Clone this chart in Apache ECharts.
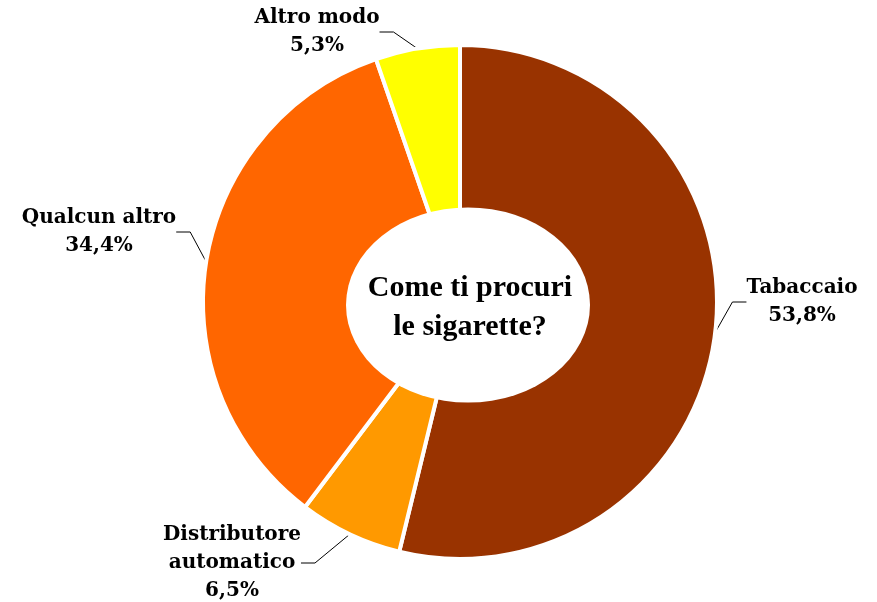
<!DOCTYPE html>
<html>
<head>
<meta charset="utf-8">
<script src="https://cdn.jsdelivr.net/npm/echarts@6/dist/echarts.min.js"></script>
<style>
html, body { margin: 0; padding: 0; background: #fff; }
#chart { width: 877px; height: 602px; }
</style>
</head>
<body>
<div id="chart"></div>
<script>
// dati (percentuali)
var categorie = ['Tabaccaio', 'Distributore\nautomatico', 'Qualcun altro', 'Altro modo'];
var valori = [53.8, 6.5, 34.4, 5.3];
var colori = ['#993300', '#FF9900', '#FF6600', '#FFFF00'];
// posizione etichette (centro del testo)
var posEtichette = [[802, 302], [232, 563], [99, 232], [317, 32]];

var chart = echarts.init(document.getElementById('chart'));

var dati = [];
for (var i = 0; i < categorie.length; i++) {
	dati.push({ name: categorie[i], value: valori[i], itemStyle: { color: colori[i] } });
}

var option = {
	animation: false,
	series: [{
		type: 'pie',
		center: [460, 302],
		radius: [85, 257],
		startAngle: 90,
		clockwise: true,
		avoidLabelOverlap: false,
		itemStyle: {
			borderColor: '#fff',
			borderWidth: 4
		},
		label: {
			show: true,
			position: 'outside',
			fontFamily: 'DejaVu Serif',
			fontWeight: 'bold',
			fontSize: 20,
			lineHeight: 28,
			color: '#000',
			align: 'center',
			formatter: function (p) {
				return p.name + '\n' + p.value.toFixed(1).replace('.', ',') + '%';
			}
		},
		labelLine: {
			show: true,
			length: 15,
			length2: 14,
			lineStyle: { color: '#000', width: 1 }
		},
		labelLayout: function (p) {
			var pos = posEtichette[p.dataIndex];
			return { x: pos[0], y: pos[1], align: 'center', verticalAlign: 'middle' };
		},
		data: dati
	}],
	graphic: [{
		type: 'circle',
		z: 100,
		x: 468,
		y: 305,
		scaleY: 0.8,
		shape: { cx: 0, cy: 0, r: 122 },
		style: { fill: '#fff' }
	}, {
		type: 'text',
		z: 101,
		x: 470,
		y: 308,
		style: {
			text: 'Come ti procuri\nle sigarette?',
			font: 'bold 30px "Liberation Serif"',
			fill: '#000',
			align: 'center',
			verticalAlign: 'middle',
			textAlign: 'center',
			textVerticalAlign: 'middle',
			lineHeight: 39
		}
	}]
};
chart.setOption(option);
</script>
</body>
</html>
